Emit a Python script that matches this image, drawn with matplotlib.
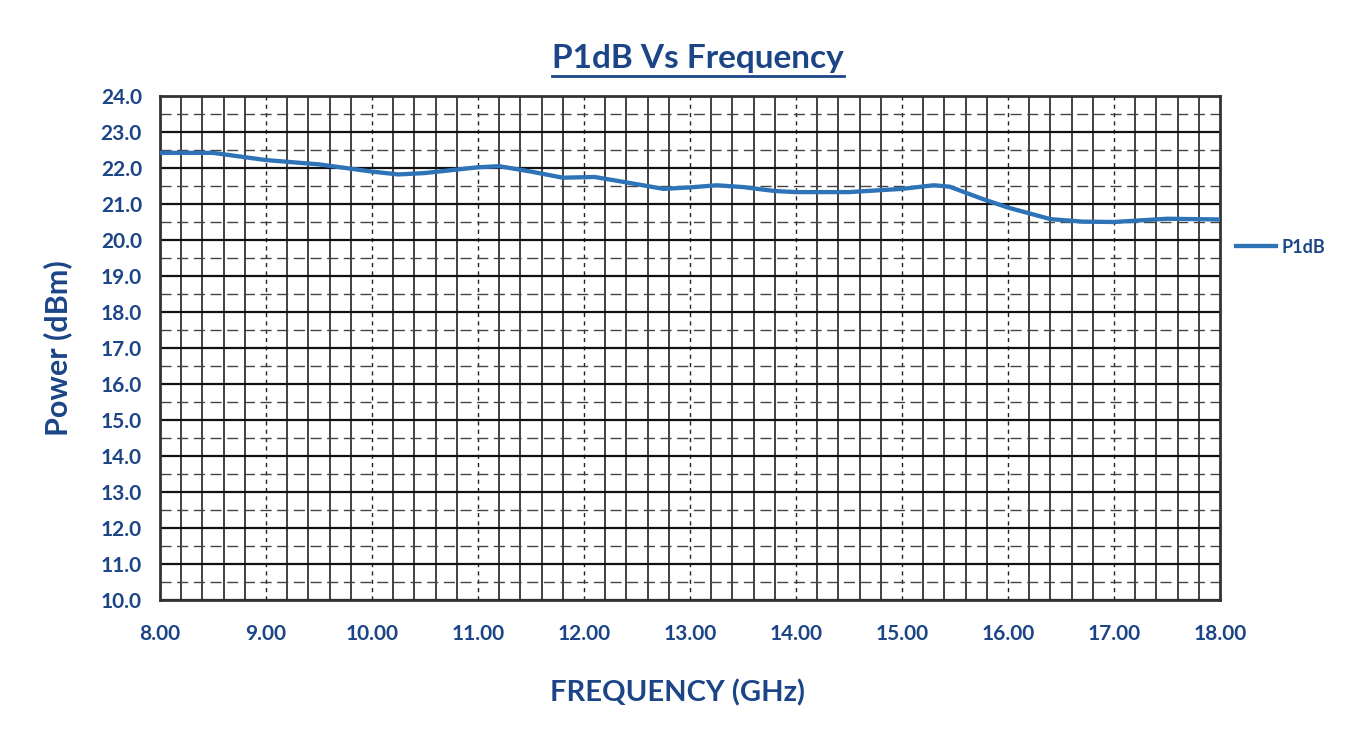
import numpy as np
import matplotlib
matplotlib.use("Agg")
import matplotlib.pyplot as plt
from matplotlib.ticker import MultipleLocator, FormatStrFormatter
from matplotlib.lines import Line2D

plt.rcParams['font.family'] = ['Lato', 'DejaVu Sans']

# P1dB readings (GHz, dBm)
freq = [8.0, 8.5, 9.0, 9.5, 10.0, 10.25, 10.5, 11.0, 11.2, 11.5, 11.8, 12.1,
        12.4, 12.75, 13.0, 13.25, 13.5, 13.8, 14.0, 14.5, 15.0, 15.3, 15.45,
        15.75, 16.0, 16.4, 16.7, 17.0, 17.5, 18.0]
p1db = [22.42, 22.42, 22.22, 22.10, 21.90, 21.82, 21.86, 22.02, 22.05, 21.90,
        21.73, 21.75, 21.60, 21.42, 21.46, 21.52, 21.47, 21.36, 21.33, 21.33,
        21.42, 21.52, 21.48, 21.15, 20.90, 20.58, 20.51, 20.50, 20.59, 20.57]

navy = '#1c4587'
blue = '#2e73b8'

fig = plt.figure(figsize=(13.58, 7.44), dpi=100)
ax = fig.add_axes([0.1178, 0.1935, 0.7806, 0.6775])

ax.plot(freq, p1db, color=blue, lw=3.1, label='P1dB', zorder=5)

ax.set_xlim(8, 18)
ax.set_ylim(10, 24)
ax.xaxis.set_major_locator(MultipleLocator(1))
ax.xaxis.set_minor_locator(MultipleLocator(0.2))
ax.yaxis.set_major_locator(MultipleLocator(1))
ax.yaxis.set_minor_locator(MultipleLocator(0.5))
ax.xaxis.set_major_formatter(FormatStrFormatter('%.2f'))
ax.yaxis.set_major_formatter(FormatStrFormatter('%.1f'))

ax.set_axisbelow(True)
ax.xaxis.grid(True, which='major', color='#222222', lw=1.0, ls=(0, (3, 3)))
ax.xaxis.grid(True, which='minor', color='#222222', lw=1.2, ls='-')
ax.yaxis.grid(True, which='major', color='#111111', lw=1.6, ls='-')
ax.yaxis.grid(True, which='minor', color='#444444', lw=1.0, ls=(0, (8, 4)))

ax.tick_params(which='both', length=0)
ax.tick_params(axis='x', pad=17)
ax.tick_params(axis='y', pad=13)
for lab in ax.get_xticklabels() + ax.get_yticklabels():
    lab.set_fontsize(15)
    lab.set_fontweight('bold')
    lab.set_color(navy)

for s in ax.spines.values():
    s.set_color('#333333')
    s.set_linewidth(2)

ax.set_xlabel('FREQUENCY (GHz)', fontsize=21, fontweight='bold', color=navy)
ax.set_ylabel('Power (dBm)', fontsize=22, fontweight='bold', color=navy)
ax.xaxis.set_label_coords(0.488, -0.158)
ax.yaxis.set_label_coords(-0.083, 0.5)

leg = ax.legend(loc='center left', bbox_to_anchor=(1.0, 0.7), frameon=False,
                handlelength=2.2, handletextpad=0.3, prop={'weight': 'bold', 'size': 13})
for t in leg.get_texts():
    t.set_color(navy)

title = fig.text(0.514, 0.908, 'P1dB Vs Frequency', ha='center', va='baseline',
                 fontsize=24, fontweight='bold', color=navy)
fig.canvas.draw()
bb = title.get_window_extent().transformed(fig.transFigure.inverted())
fig.add_artist(Line2D([bb.x0, bb.x1], [bb.y0 - 0.004, bb.y0 - 0.004],
                      transform=fig.transFigure, color=navy, lw=2))

fig.savefig('out.png', dpi=100, facecolor='white')
